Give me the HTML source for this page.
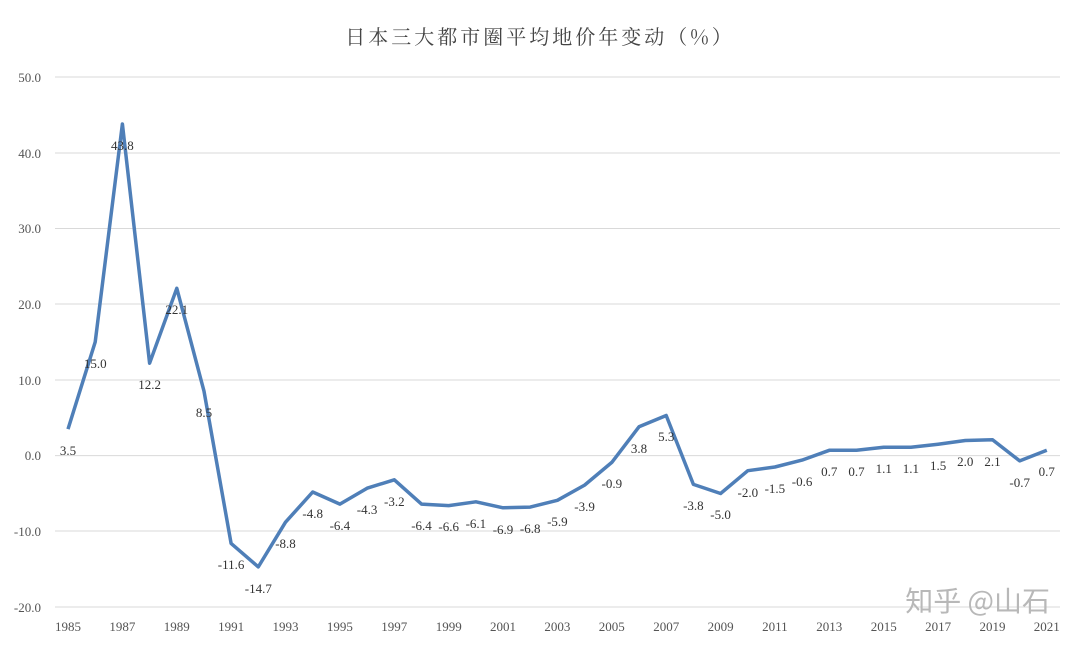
<!DOCTYPE html>
<html><head><meta charset="utf-8"><style>
html,body{margin:0;padding:0;background:#fff;}
svg{display:block;font-family:"Liberation Serif","Noto Serif CJK SC",serif;}
</style></head><body>
<svg width="1080" height="646" viewBox="0 0 1080 646" xmlns="http://www.w3.org/2000/svg">
<text x="540" y="44" text-anchor="middle" font-size="20" fill="#444" letter-spacing="3" font-family="'Noto Serif CJK SC','Noto Sans CJK SC',serif">日本三大都市圈平均地价年变动（%）</text>
<g stroke="#d9d9d9" stroke-width="1">
<line x1="55" x2="1060" y1="77" y2="77"/><line x1="55" x2="1060" y1="153" y2="153"/>
<line x1="55" x2="1060" y1="228.5" y2="228.5"/><line x1="55" x2="1060" y1="304" y2="304"/>
<line x1="55" x2="1060" y1="380" y2="380"/><line x1="55" x2="1060" y1="455.6" y2="455.6"/>
<line x1="55" x2="1060" y1="531" y2="531"/><line x1="55" x2="1060" y1="607" y2="607"/>
</g>
<g font-size="13" fill="#555" text-anchor="end">
<text x="41" y="82">50.0</text><text x="41" y="158">40.0</text><text x="41" y="233">30.0</text>
<text x="41" y="309">20.0</text><text x="41" y="385">10.0</text><text x="41" y="460">0.0</text>
<text x="41" y="536">-10.0</text><text x="41" y="612">-20.0</text>
</g>
<g font-size="13" fill="#555" text-anchor="middle">
<text x="68" y="631">1985</text><text x="122.4" y="631">1987</text><text x="176.8" y="631">1989</text>
<text x="231.1" y="631">1991</text><text x="285.5" y="631">1993</text><text x="339.9" y="631">1995</text>
<text x="394.3" y="631">1997</text><text x="448.7" y="631">1999</text><text x="503" y="631">2001</text>
<text x="557.4" y="631">2003</text><text x="611.8" y="631">2005</text><text x="666.2" y="631">2007</text>
<text x="720.6" y="631">2009</text><text x="774.9" y="631">2011</text><text x="829.3" y="631">2013</text>
<text x="883.7" y="631">2015</text><text x="938.1" y="631">2017</text><text x="992.5" y="631">2019</text>
<text x="1046.8" y="631">2021</text>
</g>
<polyline fill="none" stroke="#4f7fb8" stroke-width="3.5" stroke-linejoin="round" points="68,429.1 95.2,342 122.4,124 149.6,363.2 176.8,288.3 204,391.2 231.1,543.4 258.3,566.9 285.5,522.2 312.7,492 339.9,504.1 367.1,488.2 394.3,479.8 421.5,504.1 448.7,505.6 475.9,501.8 503,507.8 530.2,507.1 557.4,500.3 584.6,485.1 611.8,462.4 639,426.8 666.2,415.5 693.4,484.4 720.6,493.5 747.8,470.7 774.9,467 802.1,460.1 829.3,450.3 856.5,450.3 883.7,447.3 910.9,447.3 938.1,444.2 965.3,440.5 992.5,439.7 1019.7,460.9 1046.8,450.3"/>
<g font-size="13" fill="#333" text-anchor="middle">
<text x="68" y="455">3.5</text><text x="95.2" y="368">15.0</text><text x="122.4" y="150">43.8</text>
<text x="149.6" y="389">12.2</text><text x="176.8" y="314">22.1</text><text x="204" y="417">8.5</text>
<text x="231.1" y="569">-11.6</text><text x="258.3" y="593">-14.7</text><text x="285.5" y="548">-8.8</text>
<text x="312.7" y="518">-4.8</text><text x="339.9" y="530">-6.4</text><text x="367.1" y="514">-4.3</text>
<text x="394.3" y="506">-3.2</text><text x="421.5" y="530">-6.4</text><text x="448.7" y="531">-6.6</text>
<text x="475.9" y="528">-6.1</text><text x="503" y="534">-6.9</text><text x="530.2" y="533">-6.8</text>
<text x="557.4" y="526">-5.9</text><text x="584.6" y="511">-3.9</text><text x="611.8" y="488">-0.9</text>
<text x="639" y="453">3.8</text><text x="666.2" y="441">5.3</text><text x="693.4" y="510">-3.8</text>
<text x="720.6" y="519">-5.0</text><text x="747.8" y="497">-2.0</text><text x="774.9" y="493">-1.5</text>
<text x="802.1" y="486">-0.6</text><text x="829.3" y="476">0.7</text><text x="856.5" y="476">0.7</text>
<text x="883.7" y="473">1.1</text><text x="910.9" y="473">1.1</text><text x="938.1" y="470">1.5</text>
<text x="965.3" y="466">2.0</text><text x="992.5" y="466">2.1</text><text x="1019.7" y="487">-0.7</text>
<text x="1046.8" y="476">0.7</text>
</g>
<text x="1050" y="611" text-anchor="end" font-size="28" fill="#b8b8b8" font-family="'Noto Sans CJK SC',sans-serif">知乎 @山石</text>
</svg>
</body></html>
